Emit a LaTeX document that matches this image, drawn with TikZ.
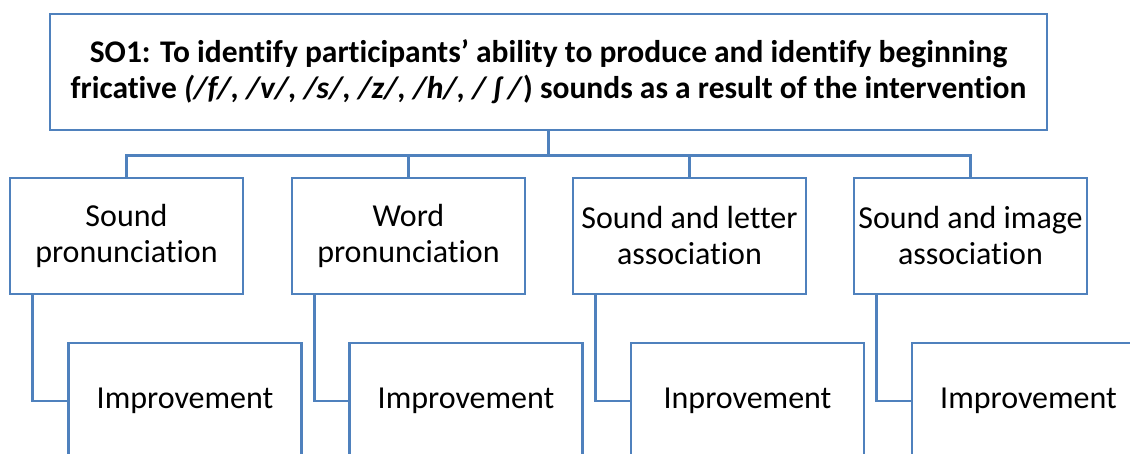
\documentclass[tikz,border=0pt]{standalone}
\usepackage{fontspec}
\setmainfont[Ligatures={NoCommon}]{Carlito}
\begin{document}
\begin{tikzpicture}[x=1pt,y=-1pt,
  box/.style={draw=boxblue, line width=2.6pt, fill=white, inner sep=0pt,
    minimum width=233pt, minimum height=116pt, align=center,
    font=\fontsize{32}{36}\selectfont},
  link/.style={draw=boxblue, line width=2.6pt}]
\definecolor{boxblue}{RGB}{79,129,189}
\useasboundingbox (0,0) rectangle (1130,453);
\clip (0,0) rectangle (1130,453);

% objective box
\node[box, minimum width=997pt, font=\bfseries\fontsize{31.5}{36}\selectfont]
  (top) at (548.5,72)
  {SO1: To identify participants’ ability to produce and identify beginning\\
   fricative \textit{(/f/, /v/, /s/, /z/, /h/, / ʃ /})\ sounds as a result of the intervention};

% aspects
\node[box] (b1) at (126.5,236) {Sound\\pronunciation};
\node[box] (b2) at (408.5,236) {Word\\pronunciation};
\node[box] (b3) at (689.5,236) {Sound and letter\\association};
\node[box] (b4) at (970.5,236) {Sound and image\\association};

% outcomes
\node[box] (i1) at (185,401) {Improvement};
\node[box] (i2) at (466,401) {Improvement};
\node[box] (i3) at (747.5,401) {Inprovement};
\node[box] (i4) at (1028.5,401) {Improvement};

% tree connectors
\foreach \b in {b1,b2,b3,b4}
  \draw[link] (top.south) -- ++(0,24) -| (\b.north);
\foreach \b/\i in {b1/i1,b2/i2,b3/i3,b4/i4}
  \draw[link] ([xshift=24pt]\b.south west) |- (\i.west);
\end{tikzpicture}
\end{document}
